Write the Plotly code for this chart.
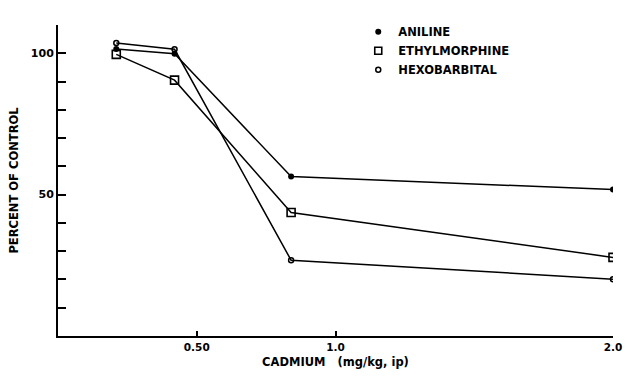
import plotly.graph_objects as go

dose = [0.21, 0.42, 0.84, 2.0]
aniline = [101.5, 99.8, 56.4, 51.8]
ethylmorphine = [99.6, 90.5, 43.7, 27.8]
hexobarbital = [103.6, 101.4, 26.8, 20.1]

x_ticks = [0.5, 1.0, 2.0]
x_ticklabels = ["0.50", "1.0", "2.0"]
y_ticks = [10, 20, 30, 40, 50, 60, 70, 80, 90, 100]
y_ticklabels = ["", "", "", "", "50", "", "", "", "", "100"]

FONT = "DejaVu Sans"
fig = go.Figure()

series = [
    ("ANILINE", aniline, dict(symbol="circle", size=6, color="black")),
    ("ETHYLMORPHINE", ethylmorphine, dict(symbol="square-open", size=8, color="black", line=dict(width=1.6, color="black"))),
    ("HEXOBARBITAL", hexobarbital, dict(symbol="circle-open", size=5, color="black", line=dict(width=1.5, color="black"))),
]
legend_markers = [
    dict(symbol="circle", size=6, color="black"),
    dict(symbol="square-open", size=7, color="black", line=dict(width=1.6, color="black")),
    dict(symbol="circle-open", size=5, color="black", line=dict(width=1.5, color="black")),
]
for name, vals, mk in series:
    fig.add_trace(go.Scatter(x=dose, y=vals, mode="lines+markers", name=name,
                             line=dict(color="black", width=1.5), marker=mk,
                             showlegend=False))
for (name, vals, _), mk in zip(series, legend_markers):
    fig.add_trace(go.Scatter(x=[None], y=[None], mode="markers", name="<b>" + name + "</b>",
                             marker=mk, showlegend=True))

fig.update_layout(
    width=632, height=378,
    margin=dict(l=58, r=10, t=25, b=42),
    paper_bgcolor="white", plot_bgcolor="white",
    font=dict(family=FONT, size=10, color="black"),
    showlegend=True,
    legend=dict(x=0.541, y=1.025, xanchor="left", yanchor="top",
                bgcolor="rgba(0,0,0,0)", borderwidth=0,
                font=dict(family=FONT, size=11.5, color="black"),
                itemwidth=30, tracegroupgap=0),
    xaxis=dict(range=[0, 2.0], showline=True, linecolor="black", linewidth=2,
               showgrid=False, zeroline=False, ticks="inside", ticklen=5,
               tickwidth=1.5, tickcolor="black", tickvals=x_ticks,
               ticktext=["<b>" + t + "</b>" for t in x_ticklabels],
               tickfont=dict(family=FONT, size=10.5),
               title=dict(text="<b>CADMIUM   (mg/kg, ip)</b>", font=dict(family=FONT, size=11.5), standoff=6)),
    yaxis=dict(range=[0, 110], showline=True, linecolor="black", linewidth=2,
               showgrid=False, zeroline=False, ticks="inside", ticklen=8,
               tickwidth=1.5, tickcolor="black", tickvals=y_ticks,
               ticktext=["<b>" + t + "</b>" if t else "" for t in y_ticklabels],
               tickfont=dict(family=FONT, size=11),
               title=dict(text="<b>PERCENT OF CONTROL</b>", font=dict(family=FONT, size=11.5), standoff=10)),
)
fig.write_html("out.html")
